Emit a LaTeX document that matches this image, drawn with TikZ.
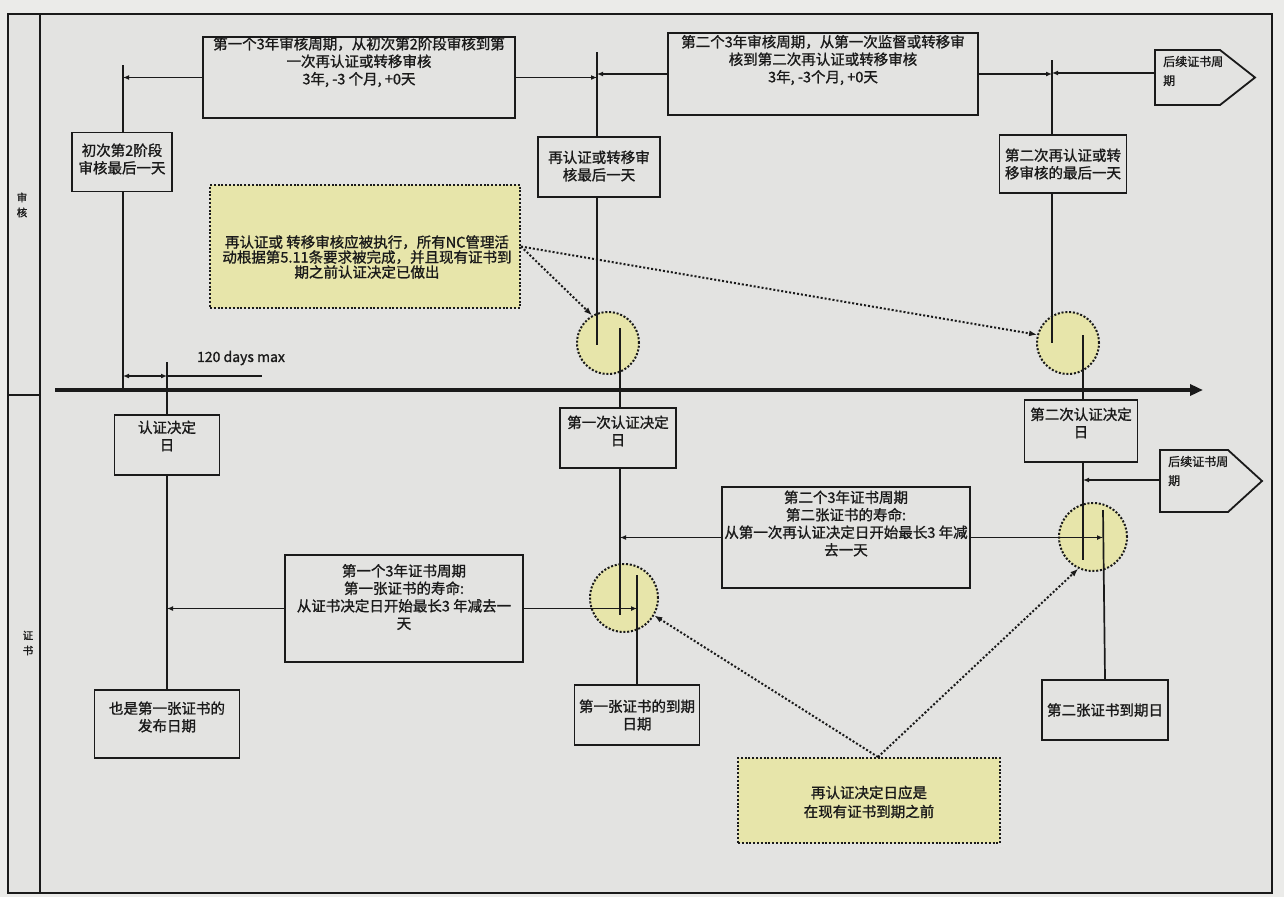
\documentclass[tikz,border=0pt]{standalone}
\usepackage{fontspec}
\setmainfont{Noto Sans CJK SC}[FakeBold=1.2]
\usetikzlibrary{arrows.meta}
\definecolor{ink}{HTML}{1A1A1A}
\definecolor{bgc}{HTML}{E3E3E1}
\definecolor{outc}{HTML}{EBEBE9}
\definecolor{yel}{HTML}{E7E5AA}
\pgfdeclarelayer{back}
\pgfdeclarelayer{circ}
\pgfdeclarelayer{lines}
\pgfsetlayers{back,circ,lines,main}
\begin{document}
\begin{tikzpicture}[x=1pt,y=-1pt,
 box/.style={draw=ink,line width=1.8pt,fill=bgc,inner sep=0pt},
 txt/.style={align=center,text=ink,inner sep=0pt,font=\fontsize{14.5}{17.5}\selectfont},
 smalltxt/.style={align=left,text=ink,inner sep=0pt,font=\fontsize{12}{19}\selectfont},
 notebox/.style={draw=ink,fill=yel,line width=2pt,dash pattern=on 2pt off 1.8pt,inner sep=0pt},
 ring/.style={circle,draw=ink,fill=yel,line width=2pt,dash pattern=on 2pt off 1.8pt,inner sep=0pt},
 con/.style={draw=ink,line width=1.7pt},
 arr/.style={con,-{Latex[length=6pt,width=5pt]}},
 dotarr/.style={draw=ink,line width=2pt,dash pattern=on 2pt off 2pt,-{Latex[length=8pt,width=6pt]}},
]
\useasboundingbox (0,0) rectangle (1284,897);
% background and lanes
\begin{pgfonlayer}{back}
 \fill[outc] (0,0) rectangle (1284,897);
 \draw[draw=ink,line width=1.3pt,fill=bgc] (8,14) rectangle (1272,893);
 \draw[ink,line width=1.3pt] (40,14) -- (40,893);
 \draw[ink,line width=1.3pt] (8,395) -- (40,395);
\end{pgfonlayer}
\node[txt,font=\fontsize{10.5}{15}\selectfont] (lane1) at (22,205) {审\\核};
\node[txt,font=\fontsize{10.5}{15}\selectfont] (lane2) at (28,643) {证\\书};

% circles
\begin{pgfonlayer}{circ}
 \node[ring,minimum size=62pt] (c1) at (608,343) {};
 \node[ring,minimum size=62pt] (c3) at (1068,343) {};
 \node[ring,minimum size=68pt] (c4) at (1093,537) {};
 \node[ring,minimum size=68pt] (c2) at (624,598) {};
\end{pgfonlayer}

% top boxes
\node[box,minimum width=312pt,minimum height=81pt] (t1) at (359,77.5) {};
\node[txt] (t1t) at (359,62) {第一个3年审核周期，从初次第2阶段审核到第\\一次再认证或转移审核\\3年, -3 个月, +0天};
\node[box,minimum width=310pt,minimum height=82pt] (t2) at (823,74) {};
\node[txt] (t2t) at (823,60) {第二个3年审核周期，从第一次监督或转移审\\核到第二次再认证或转移审核\\3年, -3个月, +0天};

\draw[box] (1155,50) -- (1220,50) -- (1255,77.5) -- (1220,105) -- (1155,105) -- cycle;
\coordinate (p1) at (1155,73);
\node[smalltxt,anchor=west] (p1t) at (1163,71) {后续证书周\\期};

\node[box,minimum width=100pt,minimum height=59pt] (a1) at (122,162) {};
\node[txt] (a1t) at (122,159) {初次第2阶段\\审核最后一天};
\node[box,minimum width=122pt,minimum height=60pt] (a2) at (599,167) {};
\node[txt] (a2t) at (599,166) {再认证或转移审\\核最后一天};
\node[box,minimum width=127pt,minimum height=58pt] (a3) at (1063,164) {};
\node[txt] (a3t) at (1063,164) {第二次再认证或转\\移审核的最后一天};

% note 1
\node[notebox,minimum width=310pt,minimum height=123pt] (n1) at (365,246.5) {};
\node[txt,font=\fontsize{14.5}{15}\selectfont] (n1t) at (367,257) {再认证或 转移审核应被执行，所有NC管理活\\动根据第5.11条要求被完成，并且现有证书到\\期之前认证决定已做出};

% decision boxes
\node[box,minimum width=105pt,minimum height=60pt] (d0) at (167,445) {};
\node[txt] (d0t) at (167,436) {认证决定\\日};
\node[box,minimum width=116pt,minimum height=60pt] (d1) at (618,438) {};
\node[txt] (d1t) at (618,431) {第一次认证决定\\日};
\node[box,minimum width=113pt,minimum height=62pt] (d2) at (1081,431) {};
\node[txt] (d2t) at (1081,423) {第二次认证决定\\日};

\draw[box] (1160,450) -- (1228,450) -- (1262,481) -- (1228,512) -- (1160,512) -- cycle;
\coordinate (p2) at (1160,480);
\node[smalltxt,anchor=west] (p2t) at (1168,471) {后续证书周\\期};

% certificate boxes
\node[box,minimum width=248pt,minimum height=101pt] (b2) at (846,537.5) {};
\node[txt] (b2t) at (846,523.5) {第二个3年证书周期\\第二张证书的寿命:\\从第一次再认证决定日开始最长3 年减\\去一天};
\node[box,minimum width=238pt,minimum height=107pt] (b1) at (404,608.5) {};
\node[txt] (b1t) at (404,597) {第一个3年证书周期\\第一张证书的寿命:\\从证书决定日开始最长3 年减去一\\天};

\node[box,minimum width=145pt,minimum height=68pt] (e0) at (167,724) {};
\node[txt] (e0t) at (167,717) {也是第一张证书的\\发布日期};
\node[box,minimum width=125pt,minimum height=60pt] (e1) at (637,715) {};
\node[txt] (e1t) at (637,715) {第一张证书的到期\\日期};
\node[box,minimum width=126pt,minimum height=60pt] (e2) at (1105,710) {};
\node[txt] (e2t) at (1105,710) {第二张证书到期日};

% note 2
\node[notebox,minimum width=262pt,minimum height=85pt] (n2) at (869,800.5) {};
\node[txt,font=\fontsize{14.5}{19}\selectfont] (n2t) at (869,802) {再认证决定日应是\\在现有证书到期之前};

\node[txt,font=\fontsize{14}{16}\selectfont] (days) at (241,358) {120 days max};

% lines
\coordinate (v1a) at (123,65);   \coordinate (v1b) at (123,388);
\coordinate (v0a) at (167,362);
\coordinate (v2a) at (597,52);   \coordinate (v2b) at (597,345);
\coordinate (w2a) at (620,328);  \coordinate (w2b) at (620,615);
\coordinate (u2a) at (637,575);
\coordinate (v3a) at (1052,60);  \coordinate (v3b) at (1052,343);
\coordinate (w3a) at (1083,335); \coordinate (w3b) at (1083,560);
\coordinate (u3a) at (1103,510);
\coordinate (ax1) at (55,390);   \coordinate (ax2) at (1203,390);
\coordinate (dd1) at (123,376);  \coordinate (dd2) at (167,376); \coordinate (dd3) at (262,376);

\begin{pgfonlayer}{lines}
 \draw[con] (v1a) -- (v1b);
 \draw[con] (v0a) -- (e0.north);
 \draw[con] (v2a) -- (v2b);
 \draw[con] (w2a) -- (w2b);
 \draw[con] (u2a) -- (e1.north);
 \draw[con] (v3a) -- (v3b);
 \draw[con] (w3a) -- (w3b);
 \draw[con] (u3a) -- (e2.north);
 \draw[draw=ink,line width=3.8pt,-{Triangle[length=13pt,width=11pt]}] (ax1) -- (ax2);
 \draw[con,{Latex[length=6pt,width=5pt]}-{Latex[length=6pt,width=5pt]}] (dd1) -- (dd2);
 \draw[con] (dd2) -- (dd3);
 % top horizontal connectors
 \draw[arr] (t1.west) -- (t1.west -| v1a);
 \draw[arr] (t1.east) -- (t1.east -| v2a);
 \draw[arr] (t2.west) -- (t2.west -| v2a);
 \draw[arr] (t2.east) -- (t2.east -| v3a);
 \draw[arr] (p1) -- (p1 -| v3a);
 \draw[arr] (p2) -- (p2 -| w3a);
 % bottom horizontal connectors
 \draw[arr] (b2.west) -- (b2.west -| w2a);
 \draw[arr] (b2.east) -- (b2.east -| u3a);
 \draw[arr] (b1.west) -- (b1.west -| v0a);
 \draw[arr] (b1.east) -- (b1.east -| u2a);
 % dotted pointers
 \draw[dotarr] (n1.east) -- (c1.120);
 \draw[dotarr] (n1.east) -- (c3.165);
 \draw[dotarr] ([xshift=9pt]n2.north) -- (c2.-30);
 \draw[dotarr] ([xshift=9pt]n2.north) -- (c4.-115);
\end{pgfonlayer}
\end{tikzpicture}
\end{document}
